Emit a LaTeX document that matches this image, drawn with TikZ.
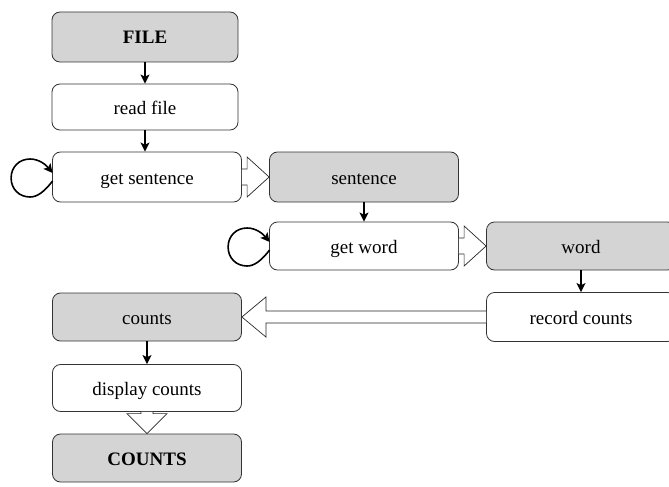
\documentclass[tikz,border=0pt]{standalone}
\usepackage{fontspec}
\setmainfont{Liberation Serif}
\usetikzlibrary{calc,arrows.meta}
\begin{document}
\begin{tikzpicture}[x=1pt,y=-1pt,
  box/.style={draw=black!80,line width=0.8pt,rounded corners=8pt,fill=white,
    inner sep=0pt,text height=14pt,text depth=0pt,font=\fontsize{19}{22}\selectfont},
  gbox/.style={box,fill=black!17},
  thin/.style={line width=1.6pt,-{Stealth[length=9pt,width=9pt,inset=2pt]}},
  fat/.style={draw=black!85,line width=0.7pt,fill=white,line join=miter}]
\useasboundingbox (0,0) rectangle (669,487);
\node[gbox,minimum width=186pt,minimum height=50pt,font=\fontsize{19}{22}\selectfont\bfseries] (file) at (145,37) {FILE};
\node[box,minimum width=186pt,minimum height=46pt] (read) at (145,107) {read file};
\node[box,minimum width=189pt,minimum height=50pt] (gs) at (147,177) {get sentence};
\node[gbox,minimum width=189pt,minimum height=50pt] (sent) at (364,177) {sentence};
\node[box,minimum width=189pt,minimum height=48pt] (gw) at (364,246) {get word};
\node[gbox,minimum width=189pt,minimum height=48pt] (word) at (581,246) {word};
\node[box,minimum width=189pt,minimum height=49pt] (rec) at (581,317) {record counts};
\node[gbox,minimum width=189pt,minimum height=48pt] (cnt) at (147,317) {counts};
\node[box,minimum width=189pt,minimum height=47pt] (disp) at (147,388) {display counts};
\node[gbox,minimum width=189pt,minimum height=48pt,font=\fontsize{19}{22}\selectfont\bfseries] (out) at (147,458) {COUNTS};
% thin arrows
\draw[thin] (file.south) -- (read.north);
\draw[thin] (read.south) -- (read.south|-gs.north);
\draw[thin] (sent.south) -- (gw.north);
\draw[thin] (word.south) -- (rec.north);
\draw[thin] (cnt.south) -- (cnt.south|-disp.north);
% loops
\foreach \n in {gs,gw}{
\draw[thin,shift={(\n.west)}] (0.5,4) .. controls (-8,15) and (-15,20) .. (-22,20)
  .. controls (-33,20) and (-41,12) .. (-41,1)
  .. controls (-41,-10) and (-33,-18) .. (-22,-18)
  .. controls (-13,-18) and (-6,-12) .. (0.5,-4);
}
% fat arrows
\draw[fat] ($(gs.east)+(0,-8)$) -- ($(sent.west)+(-22,-8)$) -- ($(sent.west)+(-22,-20)$) -- (sent.west)
  -- ($(sent.west)+(-22,20)$) -- ($(sent.west)+(-22,8)$) -- ($(gs.east)+(0,8)$);
\draw[fat] ($(gw.east)+(0,-8)$) -- ($(word.west)+(-22,-8)$) -- ($(word.west)+(-22,-20)$) -- (word.west)
  -- ($(word.west)+(-22,20)$) -- ($(word.west)+(-22,8)$) -- ($(gw.east)+(0,8)$);
\draw[fat] ($(rec.west)+(0,-6)$) -- ($(cnt.east)+(24,-6)$) -- ($(cnt.east)+(24,-20)$) -- (cnt.east)
  -- ($(cnt.east)+(24,20)$) -- ($(cnt.east)+(24,6)$) -- ($(rec.west)+(0,6)$);
\draw[fat] ($(disp.south)+(-6,0)$) -- ($(out.north)+(-6,-20)$) -- ($(out.north)+(-20,-20)$) -- (out.north)
  -- ($(out.north)+(20,-20)$) -- ($(out.north)+(6,-20)$) -- ($(disp.south)+(6,0)$);
\end{tikzpicture}
\end{document}
